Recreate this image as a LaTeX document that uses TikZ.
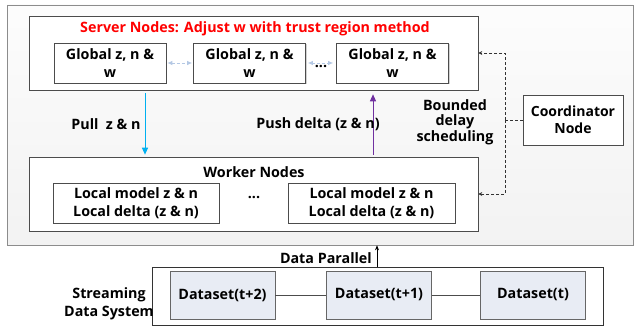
\documentclass[tikz,border=0pt]{standalone}
\usepackage{fontspec}
\setmainfont{Open Sans}
\usetikzlibrary{arrows.meta,shadows}
\definecolor{pullc}{RGB}{0,176,240}
\definecolor{pushc}{RGB}{112,48,160}
\definecolor{linkc}{RGB}{180,200,228}
\definecolor{dsfill}{RGB}{232,236,244}
\begin{document}
\begin{tikzpicture}[x=1pt,y=-1pt,
  txt/.style={font=\bfseries\fontsize{14.3}{17.5}\selectfont, align=center, inner sep=0pt},
  panel/.style={draw=black!70, fill=white, line width=0.6pt, inner sep=0pt,
    drop shadow={shadow xshift=1pt, shadow yshift=-1pt, opacity=0.35}},
  box/.style={panel, txt},
  dsbox/.style={draw=black!60, fill=dsfill, line width=0.6pt, txt, minimum width=105, minimum height=48},
  link/.style={{Latex[length=5pt,width=4.5pt]}-{Latex[length=5pt,width=4.5pt]}, densely dashed, draw=linkc, line width=0.9pt},
  coordl/.style={densely dashed, line width=0.5pt, draw=black!80}
]
\useasboundingbox (0,0) rectangle (634,328);
% outer panel
\node[draw=black!45, top color=gray!2, bottom color=gray!10, line width=0.6pt,
  minimum width=626, minimum height=240, inner sep=0pt,
  drop shadow={shadow xshift=1pt, shadow yshift=-1pt, opacity=0.3}] (outer) at (320,125) {};
% server
\node[panel, minimum width=449, minimum height=74] (server) at (253.5,53) {};
\node[txt, text=red] (stitle) at (255,29) {Server Nodes: Adjust w with trust region method};
\node[box, minimum width=112, minimum height=40] (g1) at (110,63) {Global z, n \&\\w};
\node[box, minimum width=112, minimum height=40] (g2) at (249.5,63) {Global z, n \&\\w};
\node[box, minimum width=112, minimum height=40] (g3) at (392.5,63) {Global z, n \&\\w};
\draw[link, shorten <=1pt, shorten >=1pt] (g1.east) -- (g2.west);
\draw[link, shorten <=2pt, shorten >=3pt] (g2.east) -- (g3.west);
\node[txt] (dots1) at (321,67) {...};
% worker
\node[panel, minimum width=449, minimum height=74] (worker) at (253.5,194) {};
\node[txt] (wtitle) at (254,172) {Worker Nodes};
\node[box, minimum width=166, minimum height=40] (l1) at (136,203) {Local model z \& n\\Local delta (z \& n)};
\node[box, minimum width=167, minimum height=40] (l2) at (371.5,203) {Local model z \& n\\Local delta (z \& n)};
\node[txt] (dots2) at (254,198) {...};
% pull / push
\coordinate (px) at (145,0);
\coordinate (ux) at (373,0);
\draw[pullc, line width=1pt, -{Triangle[length=7pt,width=6pt]}, shorten <=3pt, shorten >=2pt] (server.south -| px) -- (worker.north -| px);
\draw[pushc, line width=1pt, -{Triangle[length=7pt,width=6pt]}, shorten <=2pt, shorten >=4pt] (worker.north -| ux) -- (server.south -| ux);
\node[txt] (pull) at (106,124) {Pull\ \ z \& n};
\node[txt] (push) at (318,124) {Push delta (z \& n)};
\node[txt, font=\bfseries\fontsize{14.3}{15.5}\selectfont] (bds) at (455,122) {Bounded\\delay\\scheduling};
% coordinator
\node[box, minimum width=100, minimum height=50, font=\bfseries\fontsize{14}{17}\selectfont] (coord) at (573,120) {Coordinator\\Node};
\coordinate (cj) at (505,120);
\draw[coordl] (coord.west) -- (cj);
\draw[coordl, -{Stealth[length=4pt,width=4pt]}] (cj) |- (server.east);
\draw[coordl, -{Stealth[length=4pt,width=4pt]}] (cj) |- (worker.east);
% data system
\node[draw=black!80, fill=white, line width=0.6pt, minimum width=451, minimum height=58, inner sep=0pt] (ds) at (377.5,296.5) {};
\node[dsbox] (d1) at (222.5,295) {Dataset(t+2)};
\node[dsbox] (d2) at (379,295) {Dataset(t+1)};
\node[dsbox] (d3) at (533,295) {Dataset(t)};
\draw[black!70, line width=0.6pt] (d1) -- (d2);
\draw[black!70, line width=0.6pt] (d2) -- (d3);
\coordinate (dx) at (377,0);
\draw[line width=0.6pt, -{Stealth[length=5pt,width=4pt]}] (ds.north -| dx) -- (outer.south -| dx);
\node[txt, anchor=east] (dp) at (372,258) {Data Parallel};
\node[txt] (sds) at (109,304) {Streaming\\Data System};
\end{tikzpicture}
\end{document}
